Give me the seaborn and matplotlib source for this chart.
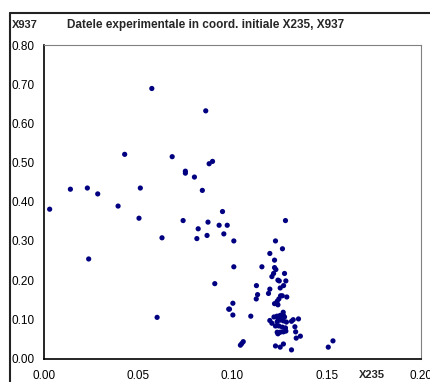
import numpy as np
import pandas as pd
import matplotlib
matplotlib.use("Agg")
import matplotlib.pyplot as plt
from matplotlib.lines import Line2D
import seaborn as sns

# experimental data, initial coordinates
x235 = [0.003, 0.014, 0.023, 0.0285, 0.0393, 0.0428, 0.0511, 0.0572, 0.068, 0.075,
        0.075, 0.0798, 0.084, 0.0858, 0.0876, 0.0894, 0.0237, 0.0504, 0.0626, 0.0738,
        0.0818, 0.0811, 0.087, 0.0865, 0.0947, 0.0929, 0.0954, 0.0972, 0.0906, 0.098,
        0.060, 0.1281, 0.1007, 0.1228, 0.1265, 0.1198, 0.1223, 0.1007, 0.1156, 0.1223,
        0.123, 0.1218, 0.1209, 0.1276, 0.1241, 0.1248, 0.1283, 0.1127, 0.1271, 0.1253,
        0.1198, 0.1191, 0.1133, 0.1126, 0.1255, 0.1264, 0.1288, 0.1246, 0.1237, 0.1223,
        0.1241, 0.1002, 0.0984, 0.1002, 0.1097, 0.1269, 0.1220, 0.1236, 0.1253, 0.127,
        0.1241, 0.1258, 0.1276, 0.1198, 0.1209, 0.1237, 0.1253, 0.127, 0.1286, 0.1228,
        0.1246, 0.1264, 0.1281, 0.1313, 0.1322, 0.1350, 0.1331, 0.1335, 0.1237, 0.1253,
        0.127, 0.1283, 0.1241, 0.136, 0.1338, 0.1042, 0.1049, 0.1057, 0.1228, 0.1253,
        0.127, 0.1313, 0.1508, 0.1533]
x937 = [0.381, 0.432, 0.435, 0.420, 0.389, 0.521, 0.435, 0.689, 0.515, 0.478,
        0.473, 0.463, 0.429, 0.632, 0.497, 0.503, 0.254, 0.358, 0.308, 0.352,
        0.331, 0.306, 0.348, 0.314, 0.375, 0.340, 0.318, 0.340, 0.191, 0.126,
        0.105, 0.352, 0.300, 0.300, 0.280, 0.268, 0.251, 0.234, 0.234, 0.232,
        0.227, 0.217, 0.209, 0.217, 0.200, 0.198, 0.198, 0.186, 0.186, 0.180,
        0.177, 0.166, 0.163, 0.152, 0.160, 0.160, 0.157, 0.152, 0.146, 0.140,
        0.137, 0.141, 0.126, 0.111, 0.108, 0.118, 0.106, 0.108, 0.110, 0.110,
        0.103, 0.103, 0.106, 0.097, 0.090, 0.094, 0.098, 0.096, 0.093, 0.083,
        0.083, 0.080, 0.078, 0.095, 0.099, 0.101, 0.081, 0.068, 0.067, 0.067,
        0.068, 0.070, 0.063, 0.057, 0.052, 0.034, 0.038, 0.043, 0.032, 0.029,
        0.037, 0.022, 0.029, 0.045]

x_ticks = [0.00, 0.05, 0.10, 0.15, 0.20]
y_ticks = [0.00, 0.10, 0.20, 0.30, 0.40, 0.50, 0.60, 0.70, 0.80]

df = pd.DataFrame({"X235": x235, "X937": x937})

sns.set_style("white")
plt.rcParams["font.family"] = ["Liberation Sans", "DejaVu Sans"]

fig = plt.figure(figsize=(4.30, 3.82), dpi=100)
ax = fig.add_axes([44 / 430, 1 - 358.5 / 382, 377 / 430, 313.5 / 382])

sns.scatterplot(data=df, x="X235", y="X937", ax=ax, color="#000080",
                s=14, edgecolor="none", clip_on=False, legend=False)

ax.set_xlim(0, 0.20)
ax.set_ylim(0, 0.80)
ax.set_xticks(x_ticks)
ax.set_yticks(y_ticks)
ax.set_xticklabels(["%.2f" % v for v in x_ticks])
ax.set_yticklabels(["%.2f" % v for v in y_ticks])
ax.tick_params(direction="inout", length=7, width=1, labelsize=8.5,
               colors="black", pad=3)
ax.tick_params(axis="x", pad=5)
ax.set_xlabel("")
ax.set_ylabel("")

for s in ["left", "bottom"]:
    ax.spines[s].set_color("black")
    ax.spines[s].set_linewidth(1.2)
for s in ["top", "right"]:
    ax.spines[s].set_color("#808080")
    ax.spines[s].set_linewidth(0.8)

fig.text(67 / 430, 1 - 25 / 382, "Datele experimentale in coord. initiale X235, X937",
         fontsize=8.5, fontweight="bold", va="center", ha="left")
fig.text(12 / 430, 1 - 25 / 382, "X937", fontsize=8, fontweight="bold",
         va="center", ha="left")
fig.text(372 / 430, 1 - 375 / 382, "X235", fontsize=8, fontweight="bold",
         va="center", ha="center")

# outer frame of the pasted chart
fig.add_artist(Line2D([9.5 / 430, 9.5 / 430], [0, 1 - 13 / 382],
                      color="#222222", lw=1.5))
fig.add_artist(Line2D([9.5 / 430, 1], [1 - 13 / 382, 1 - 13 / 382],
                      color="#222222", lw=1.5))

fig.savefig("out.png", dpi=100)
